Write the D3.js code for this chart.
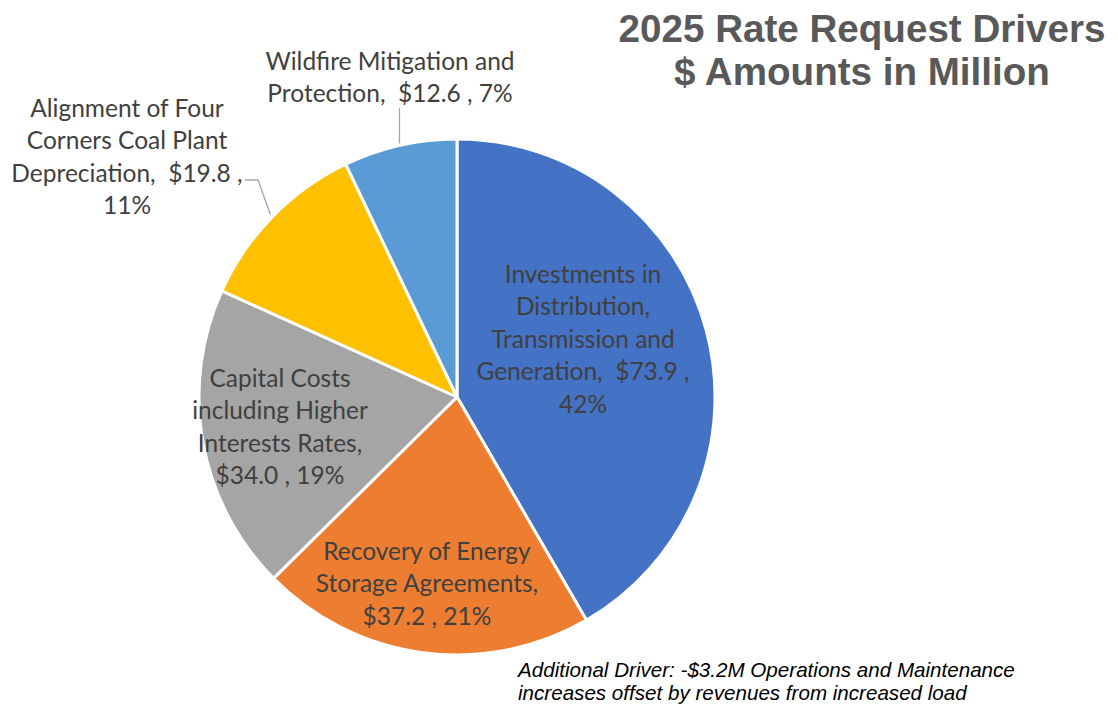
<!DOCTYPE html>
<html>
<head>
<meta charset="utf-8">
<script src="https://cdn.jsdelivr.net/npm/d3@7"></script>
<style>
  body { margin: 0; background: #fff; }
  svg { display: block; }
  text { white-space: pre; }
</style>
</head>
<body>
<svg id="chart" width="1118" height="704"></svg>
<script>
// chart data
const drivers = [
  "Investments in Distribution, Transmission and Generation",
  "Recovery of Energy Storage Agreements",
  "Capital Costs including Higher Interests Rates",
  "Alignment of Four Corners Coal Plant Depreciation",
  "Wildfire Mitigation and Protection"
];
const amounts = [73.9, 37.2, 34.0, 19.8, 12.6];
const percents = [42, 21, 19, 11, 7];
const colours = ["#4472C4", "#ED7D31", "#A5A5A5", "#FFC000", "#5B9BD5"];

// how each label is broken into lines (text only)
const labelLines = [
  ["Investments in", "Distribution,", "Transmission and", "Generation,  $73.9 ,", "42%"],
  ["Recovery of Energy", "Storage Agreements,", "$37.2 , 21%"],
  ["Capital Costs", "including Higher", "Interests Rates,", "$34.0 , 19%"],
  ["Alignment of Four", "Corners Coal Plant", "Depreciation,  $19.8 ,", "11%"],
  ["Wildfire Mitigation and", "Protection,  $12.6 , 7%"]
];

const cx = 457, cy = 397, radius = 258;
const lineH = 32.5;

// label anchor (center x, first line center y)
const labelPos = [
  [583, 273],
  [427, 550],
  [280, 377],
  [127, 107],
  [390, 60]
];

const svg = d3.select("#chart");

const pie = d3.pie().sort(null).value(d => d.amount);
const arc = d3.arc().innerRadius(0).outerRadius(radius);

const data = drivers.map((name, i) => ({ name, amount: amounts[i], pct: percents[i], i }));
const slices = pie(data);

const g = svg.append("g").attr("transform", `translate(${cx}, ${cy})`);

g.selectAll(".slice")
  .data(slices)
  .join("path")
  .attr("class", "slice")
  .attr("d", arc)
  .attr("fill", d => colours[d.data.i])
  .attr("stroke", "#fff")
  .attr("stroke-width", 3)
  .attr("stroke-linejoin", "round");

// leader lines for the two outside labels
const midPoint = (s, r) => {
  const a = (s.startAngle + s.endAngle) / 2;
  return [r * Math.sin(a), -r * Math.cos(a)];
};

const [wx, wy] = midPoint(slices[4], radius + 2);
g.append("path")
  .attr("d", `M${wx},${108 - cy} L${wx},${wy}`)
  .attr("fill", "none")
  .attr("stroke", "#A6A6A6")
  .attr("stroke-width", 1.3);

const [ax, ay] = midPoint(slices[3], radius + 3);
g.append("path")
  .attr("d", `M${245 - cx},${180 - cy} L${258 - cx},${180 - cy} L${ax},${ay}`)
  .attr("fill", "none")
  .attr("stroke", "#A6A6A6")
  .attr("stroke-width", 1.3);

// slice labels
const labels = svg.selectAll(".slice-label")
  .data(data)
  .join("text")
  .attr("class", "slice-label")
  .attr("text-anchor", "middle")
  .attr("font-family", "Lato, 'Open Sans', sans-serif")
  .attr("font-size", 24.5)
  .attr("fill", "#404040");

labels.selectAll("tspan")
  .data(d => labelLines[d.i].map((t, k) => ({ t, k, i: d.i })))
  .join("tspan")
  .attr("x", d => labelPos[d.i][0])
  .attr("y", d => labelPos[d.i][1] + d.k * lineH)
  .attr("dominant-baseline", "central")
  .text(d => d.t);

// title
svg.append("text")
  .attr("text-anchor", "middle")
  .attr("font-family", "Liberation Sans, Arial, sans-serif")
  .attr("font-weight", "bold")
  .attr("font-size", 38.6)
  .attr("fill", "#595959")
  .selectAll("tspan")
  .data(["2025 Rate Request Drivers", "$ Amounts in Million"])
  .join("tspan")
  .attr("x", 862)
  .attr("y", (_, i) => 42 + i * 43)
  .text(d => d);

// footnote
svg.append("text")
  .attr("font-family", "Liberation Sans, Arial, sans-serif")
  .attr("font-style", "italic")
  .attr("font-size", 20.6)
  .attr("fill", "#000")
  .selectAll("tspan")
  .data(["Additional Driver: -$3.2M Operations and Maintenance", "increases offset by revenues from increased load"])
  .join("tspan")
  .attr("x", 518)
  .attr("y", (_, i) => 677 + i * 23)
  .text(d => d);
</script>
</body>
</html>
